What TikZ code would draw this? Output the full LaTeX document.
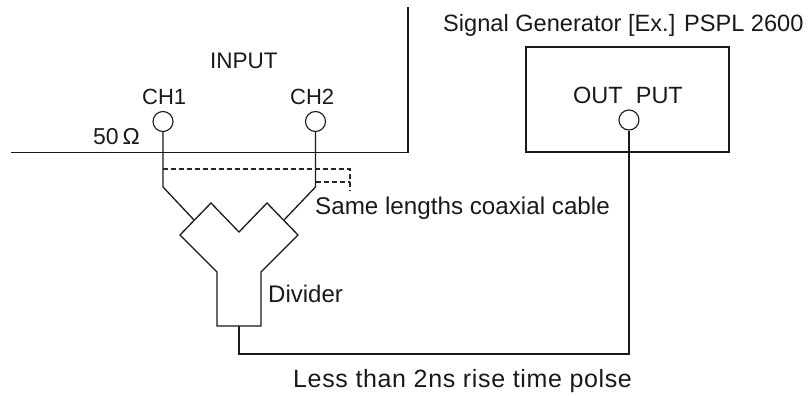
\documentclass[tikz,border=0pt]{standalone}
\usepackage{fontspec}
\setmainfont{Liberation Sans}
\begin{document}
\begin{tikzpicture}[x=1pt,y=-1pt,line join=miter,
  wire/.style={line width=1.3pt,black!90},
  port/.style={circle,draw=black!90,line width=1.1pt,minimum size=20pt,inner sep=0pt,fill=white},
  lbl/.style={inner sep=0pt,anchor=base west,text=black!90},
  dash line/.style={line width=1.1pt,dash pattern=on 5pt off 3pt,black!85}]
\useasboundingbox (0,0) rectangle (812,396);
% oscilloscope outline
\coordinate (scopeL) at (11,152.5);
\coordinate (scopeC) at (408,152.5);
\coordinate (scopeT) at (408,7);
\draw[wire] (scopeL) -- (scopeC) -- (scopeT);
% generator box
\node[draw=black!90,line width=1.3pt,minimum width=203pt,minimum height=105pt,inner sep=0pt] (gen) at (627.5,99.5) {};
% ports
\node[port] (ch1) at (163,121.5) {};
\node[port] (ch2) at (315.5,121.5) {};
\node[port] (out) at (629,120) {};
% divider
\coordinate (d1) at (180,235);
\coordinate (d2) at (211,203);
\coordinate (d3) at (239,232);
\coordinate (d4) at (267,203);
\coordinate (d5) at (298,235);
\coordinate (d6) at (261,272);
\coordinate (d7) at (261,326);
\coordinate (d8) at (217,326);
\coordinate (d9) at (217,272);
\draw[wire] (d1) -- (d2) -- (d3) -- (d4) -- (d5) -- (d6) -- (d7) -- (d8) -- (d9) -- cycle;
% cables
\coordinate (k1) at (163,187);
\coordinate (k2) at (315.5,187);
\coordinate (p1) at (194,220);
\coordinate (p2) at (284,220);
\draw[wire] (ch1) -- (k1) -- (p1);
\draw[wire] (ch2) -- (k2) -- (p2);
% bottom wire
\coordinate (dout) at (239,326);
\coordinate (b1) at (239,354);
\coordinate (b2) at (629,354);
\draw[wire] (dout) -- (b1) -- (b2) -- (out);
% dashed
\coordinate (e1) at (163,169);
\coordinate (e2) at (350,169);
\coordinate (e3) at (350,191);
\coordinate (e4) at (315.5,182);
\coordinate (e5) at (350,182);
\draw[dash line] (e1) -- (e2) -- (e3);
\draw[dash line] (e4) -- (e5);
% labels
\node[lbl,font=\fontsize{22.5}{24}\selectfont] (input) at (210,69) {INPUT};
\node[lbl,font=\fontsize{22}{24}\selectfont] (tch1) at (142,105) {CH1};
\node[lbl,font=\fontsize{22}{24}\selectfont] (tch2) at (290,105) {CH2};
\node[lbl,font=\fontsize{23}{24}\selectfont] (t50) at (93,144) {50\,Ω};
\node[lbl,font=\fontsize{23.6}{24}\selectfont] (siggen) at (443,32) {Signal Generator [Ex.] PSPL 2600};
\node[lbl,font=\fontsize{23.5}{24}\selectfont] (toutp) at (573,103) {OUT\ \ PUT};
\node[lbl,font=\fontsize{24.2}{26}\selectfont] (same) at (315,214) {Same lengths coaxial cable};
\node[lbl,font=\fontsize{24}{26}\selectfont] (divtxt) at (268,302) {Divider};
\node[lbl,font=\fontsize{25}{26}\selectfont\addfontfeature{LetterSpace=2.6}] (pulse) at (293,387) {Less than 2ns rise time polse};
\end{tikzpicture}
\end{document}
